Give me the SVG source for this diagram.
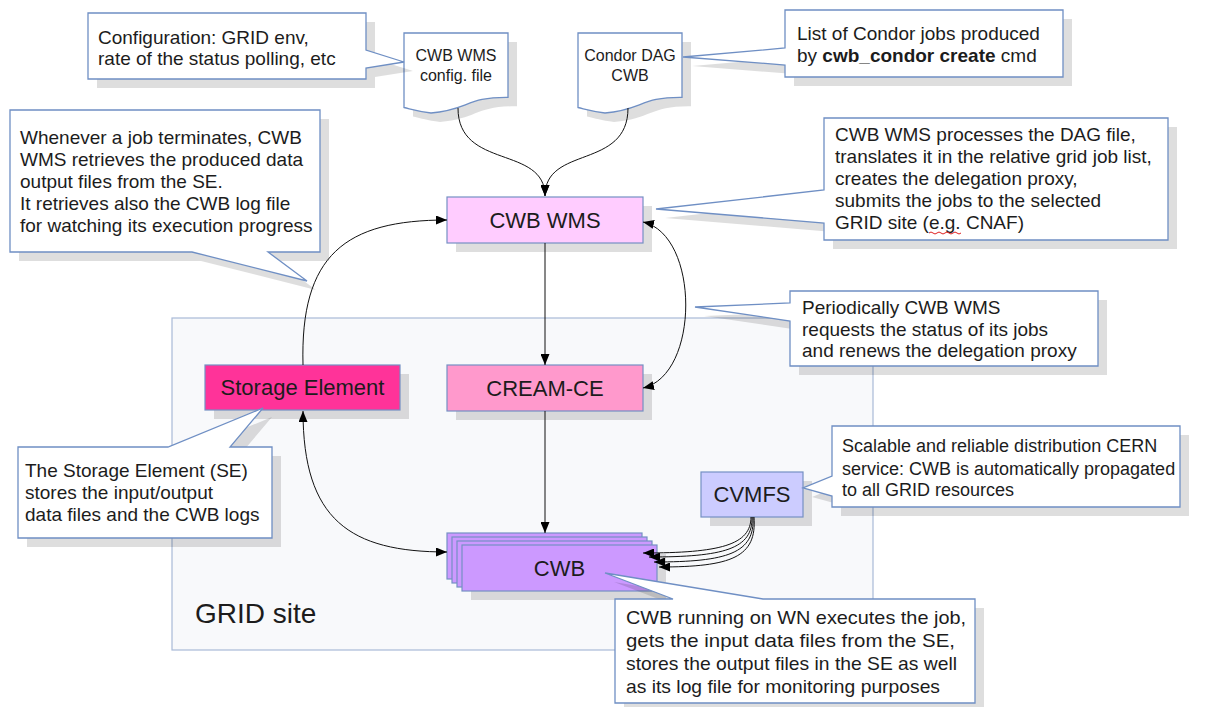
<svg xmlns="http://www.w3.org/2000/svg" xmlns:xlink="http://www.w3.org/1999/xlink" width="1207" height="707" viewBox="0 0 1207 707">
<style>
  text { font-family: "Liberation Sans", Arial, sans-serif; fill: #1c1c1c; }
  .ct { font-size: 19px; }
  .nt { font-size: 22px; text-anchor: middle; }
  .dt { font-size: 16px; text-anchor: middle; }
  .node { stroke: #7590c4; stroke-width: 1.2; }
  .shadow { fill: #000; fill-opacity: 0.13; stroke: none; }
  .callout { fill: #fff; stroke: #6f8fc4; stroke-width: 1.3; }
  .doc { fill: #fff; stroke: #6f8fc4; stroke-width: 1.3; }
  .conn { fill: none; stroke: #111; stroke-width: 1; }
  .end { marker-end: url(#arr); }
  .both { marker-start: url(#arrs); marker-end: url(#arr); }
</style>
<defs>
  <marker id="arr" markerUnits="userSpaceOnUse" markerWidth="11" markerHeight="9" refX="11" refY="4.5" orient="auto">
    <path d="M0,0 L11,4.5 L0,9 Z" fill="#000"/>
  </marker>
  <marker id="arrs" markerUnits="userSpaceOnUse" markerWidth="11" markerHeight="9" refX="11" refY="4.5" orient="auto-start-reverse">
    <path d="M0,0 L11,4.5 L0,9 Z" fill="#000"/>
  </marker>
  <path id="c1p" d="M88,13 H366 V50 L404,62 L366,68 V79 H88 Z"/>
  <path id="c2p" d="M785,10 H1063 V77 H785 V65 L683,57 L785,48 Z"/>
  <path id="c3p" d="M10,110 H320 V252 H268 L307,281 L192,252 H10 Z"/>
  <path id="c4p" d="M824,118 H1168 V240 H824 V223 L656,209 L824,190 Z"/>
  <path id="c5p" d="M790,291 H1098 V366 H790 V321 L695,307 L790,303 Z"/>
  <path id="c6p" d="M18,447 H168 L263,408 L230,447 H272 V538 H18 Z"/>
  <path id="c7p" d="M832,426 H1180 V507 H832 V496 L803,488 L832,476 Z"/>
  <path id="c8p" d="M615,599 H673 L605,573 L763,599 H975 V703 H615 Z"/>
  <path id="d1p" d="M404,33 H508 V97.3 C466.8,96.8 468.2,109.9 431,113 C417.7,111.2 412.9,109.6 404,107.5 Z"/>
  <path id="d2p" d="M578,33 H682 V97.3 C640.8,96.8 642.2,109.9 605,113 C591.7,111.2 586.9,109.6 578,107.5 Z"/>
</defs>

<g id="grid-site">
  <rect x="172" y="318" width="701" height="332" fill="#f8f9fb" stroke="#a9bad8" stroke-width="1.2"/>
  <text x="195" y="623" style="font-size:28px" fill="#222">GRID site</text>
</g>

<g id="doc-config">
  <use href="#d1p" class="shadow" transform="translate(9,9)"/>
  <use href="#d1p" class="doc"/>
  <text class="dt" x="456" y="61">CWB WMS</text>
  <text class="dt" x="456" y="81">config. file</text>
</g>
<g id="doc-dag">
  <use href="#d2p" class="shadow" transform="translate(9,9)"/>
  <use href="#d2p" class="doc"/>
  <text class="dt" x="630" y="61">Condor DAG</text>
  <text class="dt" x="630" y="81">CWB</text>
</g>

<g id="node-cwbwms">
  <rect x="456" y="206" width="196" height="46" class="shadow"/>
  <rect x="447" y="197" width="196" height="46" fill="#ffccff" class="node"/>
  <text class="nt" x="545" y="228">CWB WMS</text>
</g>
<g id="node-storage">
  <rect x="214" y="374" width="195" height="45" class="shadow"/>
  <rect x="205" y="365" width="195" height="45" fill="#ff3399" class="node"/>
  <text class="nt" x="302.5" y="395">Storage Element</text>
</g>
<g id="node-creamce">
  <rect x="456" y="374" width="196" height="46" class="shadow"/>
  <rect x="447" y="365" width="196" height="46" fill="#ff99cc" class="node"/>
  <text class="nt" x="545" y="396">CREAM-CE</text>
</g>
<g id="node-cvmfs">
  <rect x="710" y="481" width="102" height="45" class="shadow"/>
  <rect x="701" y="472" width="102" height="45" fill="#ccccff" class="node"/>
  <text class="nt" x="752" y="502">CVMFS</text>
</g>
<g id="node-cwb">
  <rect x="471" y="554" width="195" height="46" class="shadow"/>
  <rect x="447" y="533" width="195" height="46" fill="#cc99ff" class="node"/>
  <rect x="452" y="537" width="195" height="46" fill="#cc99ff" class="node"/>
  <rect x="457" y="541" width="195" height="46" fill="#cc99ff" class="node"/>
  <rect x="462" y="545" width="195" height="46" fill="#cc99ff" class="node"/>
  <text class="nt" x="559.5" y="576">CWB</text>
</g>

<g id="connectors">
  <path class="conn end" d="M458,108 C458,170 545,145 545,196"/>
  <path class="conn end" d="M628,108 C628,170 545,145 545,196"/>
  <path class="conn end" d="M545,243 V365"/>
  <path class="conn end" d="M545,411 V533"/>
  <path class="conn end" d="M303,365 C300,255 345,220 447,220"/>
  <path class="conn both" d="M303,411 C303,520 350,552 447,552"/>
  <path class="conn both" d="M643,222 C700,235 700,375 643,388"/>
  <path class="conn end" d="M751,517 C751,545 720,553 643,553"/>
  <path class="conn end" d="M752,517 C753,549 724,557 649,557"/>
  <path class="conn end" d="M753,517 C755,553 728,562 654,562"/>
  <path class="conn end" d="M754,517 C757,557 732,567 659,567"/>
</g>

<g id="callout-config">
  <use href="#c1p" class="shadow" transform="translate(9,9)"/>
  <use href="#c1p" class="callout"/>
  <text class="ct" x="98" y="44">Configuration: GRID env,</text>
  <text class="ct" x="98" y="65">rate of the status polling, etc</text>
</g>
<g id="callout-condor">
  <use href="#c2p" class="shadow" transform="translate(9,9)"/>
  <use href="#c2p" class="callout"/>
  <text class="ct" x="797" y="40">List of Condor jobs produced</text>
  <text class="ct" x="797" y="62">by <tspan font-weight="bold">cwb_condor create</tspan> cmd</text>
</g>
<g id="callout-retrieve">
  <use href="#c3p" class="shadow" transform="translate(9,9)"/>
  <use href="#c3p" class="callout"/>
  <text class="ct" x="20" y="144">Whenever a job terminates, CWB</text>
  <text class="ct" x="20" y="166">WMS retrieves the produced data</text>
  <text class="ct" x="20" y="188">output files from the SE.</text>
  <text class="ct" x="20" y="210">It retrieves also the CWB log file</text>
  <text class="ct" x="20" y="232">for watching its execution progress</text>
</g>
<g id="callout-wms">
  <use href="#c4p" class="shadow" transform="translate(9,9)"/>
  <use href="#c4p" class="callout"/>
  <text class="ct" x="835" y="141">CWB WMS processes the DAG file,</text>
  <text class="ct" x="835" y="163">translates it in the relative grid job list,</text>
  <text class="ct" x="835" y="185">creates the delegation proxy,</text>
  <text class="ct" x="835" y="207">submits the jobs to the selected</text>
  <text class="ct" x="835" y="229">GRID site (e.g. CNAF)</text>
  <path d="M929,233 q2,-2 4,0 t4,0 t4,0 t4,0 t4,0 t4,0 t4,0 t4,0" fill="none" stroke="#e02020" stroke-width="1"/>
</g>
<g id="callout-periodic">
  <use href="#c5p" class="shadow" transform="translate(9,9)"/>
  <use href="#c5p" class="callout"/>
  <text class="ct" x="802" y="314">Periodically CWB WMS</text>
  <text class="ct" x="802" y="336">requests the status of its jobs</text>
  <text class="ct" x="802" y="357">and renews the delegation proxy</text>
</g>
<g id="callout-se">
  <use href="#c6p" class="shadow" transform="translate(9,9)"/>
  <use href="#c6p" class="callout"/>
  <text class="ct" x="25" y="477">The Storage Element (SE)</text>
  <text class="ct" x="25" y="499">stores the input/output</text>
  <text class="ct" x="25" y="521">data files and the CWB logs</text>
</g>
<g id="callout-cvmfs">
  <use href="#c7p" class="shadow" transform="translate(9,9)"/>
  <use href="#c7p" class="callout"/>
  <text class="ct" x="842" y="452" style="font-size:18px">Scalable and reliable distribution CERN</text>
  <text class="ct" x="842" y="475" style="font-size:18px">service: CWB is automatically propagated</text>
  <text class="ct" x="842" y="496" style="font-size:18px">to all GRID resources</text>
</g>
<g id="callout-cwb">
  <use href="#c8p" class="shadow" transform="translate(9,9)"/>
  <use href="#c8p" class="callout"/>
  <text class="ct" x="626" y="624" textLength="340" lengthAdjust="spacingAndGlyphs">CWB running on WN executes the job,</text>
  <text class="ct" x="626" y="647" textLength="329" lengthAdjust="spacingAndGlyphs">gets the input data files from the SE,</text>
  <text class="ct" x="626" y="670" textLength="331" lengthAdjust="spacingAndGlyphs">stores the output files in the SE as well</text>
  <text class="ct" x="626" y="693" textLength="314" lengthAdjust="spacingAndGlyphs">as its log file for monitoring purposes</text>
</g>
</svg>
